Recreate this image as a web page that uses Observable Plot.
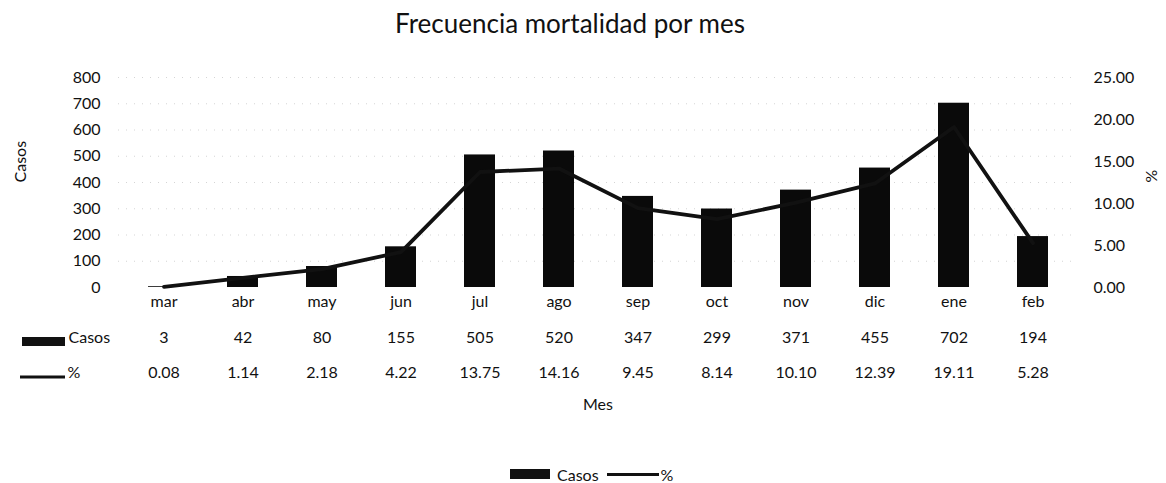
<!DOCTYPE html>
<html><head><meta charset="utf-8">
<script src="https://cdn.jsdelivr.net/npm/d3@7"></script>
<script src="https://cdn.jsdelivr.net/npm/@observablehq/plot@0.6"></script>
<style>
body{margin:0;background:#fff;font-family:Lato,sans-serif;color:#111;}
#wrap{position:relative;width:1166px;height:483px;overflow:hidden;}
#title{height:60px;text-align:center;font-size:26px;padding-top:10px;box-sizing:border-box;line-height:26px;padding-right:26px;}
#legend{position:absolute;left:510px;top:466px;display:flex;align-items:center;font-size:16px;height:16px;}
.sw-box{display:inline-block;width:40px;height:10px;background:#111;margin-right:7px;}
.sw-line{display:inline-block;width:52px;height:3px;background:#111;margin-left:8px;margin-right:2px;}
</style></head><body>
<div id="wrap"><div id="title">Frecuencia mortalidad por mes</div><div id="chart"></div>
<div id="legend"><span class="sw-box"></span><span>Casos</span><span class="sw-line"></span><span>%</span></div></div>
<script>
const meses = ["mar","abr","may","jun","jul","ago","sep","oct","nov","dic","ene","feb"];
const casos = [3,42,80,155,505,520,347,299,371,455,702,194];
const pct = [0.08,1.14,2.18,4.22,13.75,14.16,9.45,8.14,10.10,12.39,19.11,5.28];
const casosTicks = [0,100,200,300,400,500,600,700,800];
const pctTicks = [0,5,10,15,20,25];
const rowLabels = ["Casos","%"];
const axisTitleX = "Mes", axisTitleY = "Casos", axisTitleY2 = "%";

const K = 800/25;
const data = meses.map((m,i)=>({mes:m, casos:casos[i], pct:pct[i], pctY:pct[i]*K}));
const fmt2 = d=>d.toFixed(2);

const plot = Plot.plot({
  width:1166, height:360, marginTop:17, marginBottom:133, marginLeft:118, marginRight:89,
  style:{fontFamily:"Lato, sans-serif", fontSize:"16px", color:"#111", background:"#fff", overflow:"visible"},
  x:{domain:meses, paddingInner:0.61, paddingOuter:0.305, axis:null},
  y:{domain:[0,800], axis:null},
  marks:[
    Plot.gridY(casosTicks.slice(1), {stroke:"#888", strokeOpacity:0.35, strokeDasharray:"1,7"}),
    Plot.axisY(casosTicks, {anchor:"left", tickSize:0, tickPadding:18, label:null}),
    Plot.axisY(pctTicks.map(v=>v*K), {anchor:"right", tickSize:0, tickPadding:16, tickFormat:d=>fmt2(d/K), label:null}),
    Plot.barY(data, {x:"mes", y:"casos", fill:"#0a0a0a"}),
    Plot.line(data, {x:"mes", y:"pctY", stroke:"#111", strokeWidth:3.8, strokeLinejoin:"round"}),
    Plot.text(data, {x:"mes", text:"mes", frameAnchor:"bottom", dy:19}),
    Plot.text(data, {x:"mes", text:d=>String(d.casos), frameAnchor:"bottom", dy:55}),
    Plot.text(data, {x:"mes", text:d=>fmt2(d.pct), frameAnchor:"bottom", dy:90}),
    Plot.text([rowLabels[0]], {text:d=>d, frameAnchor:"bottom-left", dx:-50, dy:55, textAnchor:"start"}),
    Plot.text([rowLabels[1]], {text:d=>d, frameAnchor:"bottom-left", dx:-51, dy:90, textAnchor:"start"}),
    Plot.text([axisTitleX], {text:d=>d, frameAnchor:"bottom", dy:122}),
    Plot.text([axisTitleY], {text:d=>d, frameAnchor:"left", dx:-98, rotate:-90}),
    Plot.text([axisTitleY2], {text:d=>d, frameAnchor:"right", dx:74, rotate:90})
  ]
});
document.getElementById("chart").appendChild(plot);
// table legend keys
const svg = d3.select(plot);
svg.append("rect").attr("x",22).attr("y",227+55-5).attr("width",43).attr("height",9).attr("fill","#111");
svg.append("line").attr("x1",20).attr("x2",65).attr("y1",227+90).attr("y2",227+90).attr("stroke","#111").attr("stroke-width",3);
</script>
</body></html>
